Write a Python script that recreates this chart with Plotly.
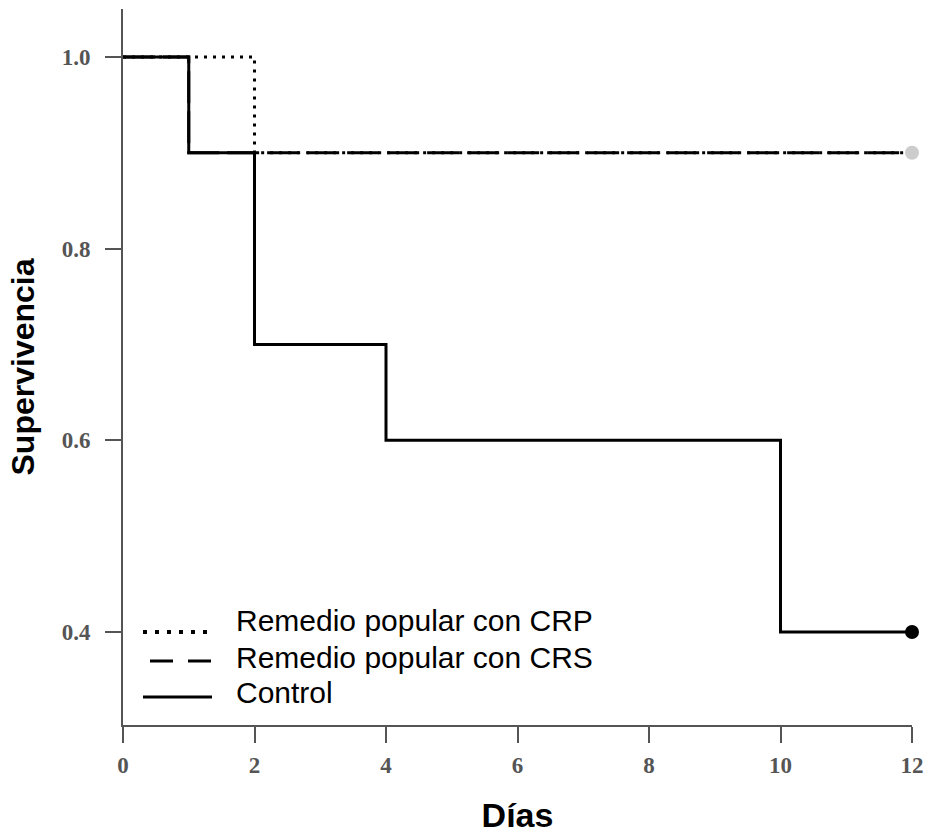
import plotly.graph_objects as go

# Data (Kaplan-Meier step curves)
crp_days = [0, 2, 12]
crp_surv = [1.0, 0.9, 0.9]
crs_days = [0, 1, 12]
crs_surv = [1.0, 0.9, 0.9]
ctrl_days = [0, 1, 2, 4, 10, 12]
ctrl_surv = [1.0, 0.9, 0.7, 0.6, 0.4, 0.4]

x_ticks = [0, 2, 4, 6, 8, 10, 12]
y_ticks = [0.4, 0.6, 0.8, 1.0]
y_tick_text = ["0.4", "0.6", "0.8", "1.0"]

names = ["Remedio popular con CRP", "Remedio popular con CRS", "Control"]

W, H = 930, 839
L, R, T, B = 123, 18, 9, 114
pw, ph = W - L - R, H - T - B


def px_x(px):
    return (px - L) / pw


def px_y(py):
    return (H - B - py) / ph


fig = go.Figure()
fig.add_trace(go.Scatter(x=crs_days, y=crs_surv, mode="lines", line_shape="hv", name=names[1],
                         showlegend=False, line=dict(color="black", width=3, dash="32px,8px")))
fig.add_trace(go.Scatter(x=crp_days, y=crp_surv, mode="lines", line_shape="hv", name=names[0],
                         showlegend=False, line=dict(color="black", width=3, dash="3px,6px")))
fig.add_trace(go.Scatter(x=ctrl_days, y=ctrl_surv, mode="lines", line_shape="hv", name=names[2],
                         showlegend=False, line=dict(color="black", width=3)))
# end (censor) markers
fig.add_trace(go.Scatter(x=[crs_days[-1]], y=[crs_surv[-1]], mode="markers", showlegend=False,
                         cliponaxis=False, marker=dict(color="#cccccc", size=14)))
fig.add_trace(go.Scatter(x=[ctrl_days[-1]], y=[ctrl_surv[-1]], mode="markers", showlegend=False,
                         cliponaxis=False, marker=dict(color="black", size=14)))

# Manual legend (style only)
legend_rows = [
    (names[0], "4px,8px", 4, 143, 632, 620),
    (names[1], "23px,15px", 3, 150, 661, 657),
    (names[2], "solid", 3, 143, 697, 692),
]
shapes = []
annotations = []
for name, dash, lw, x0, ly, ty in legend_rows:
    shapes.append(dict(type="line", xref="paper", yref="paper",
                       x0=px_x(x0), x1=px_x(212), y0=px_y(ly), y1=px_y(ly),
                       line=dict(color="black", width=lw, dash=dash)))
    annotations.append(dict(text=name, xref="paper", yref="paper", x=px_x(234), y=px_y(ty),
                            xanchor="left", yanchor="middle", showarrow=False,
                            font=dict(family="Liberation Sans, Arial", size=30, color="black")))

fig.update_layout(
    width=W, height=H,
    margin=dict(l=L, r=R, t=T, b=B),
    plot_bgcolor="white", paper_bgcolor="white",
    shapes=shapes, annotations=annotations,
    xaxis=dict(range=[0, 12], tickvals=x_ticks, showline=True, linecolor="#555", linewidth=2,
               automargin=False,
               ticks="outside", ticklen=16, tickwidth=2, tickcolor="#555", showgrid=False, zeroline=False,
               ticklabelstandoff=2,
               tickfont=dict(family="Liberation Serif, Times New Roman", size=23, color="#555", weight="bold"),
               title=dict(text="Días", font=dict(family="Liberation Sans, Arial", size=34, color="black", weight="bold"),
                          standoff=27)),
    yaxis=dict(range=[0.303, 1.05], tickvals=y_ticks, ticktext=y_tick_text, showline=True, linecolor="#555",
               automargin=False,
               linewidth=2, ticks="outside", ticklen=16, tickwidth=2, tickcolor="#555", showgrid=False, zeroline=False,
               ticklabelstandoff=10,
               tickfont=dict(family="Liberation Serif, Times New Roman", size=23, color="#555", weight="bold"),
               title=dict(text="Supervivencia", font=dict(family="Liberation Sans, Arial", size=32, color="black", weight="bold"),
                          standoff=17)),
)

fig.write_html("out.html")
